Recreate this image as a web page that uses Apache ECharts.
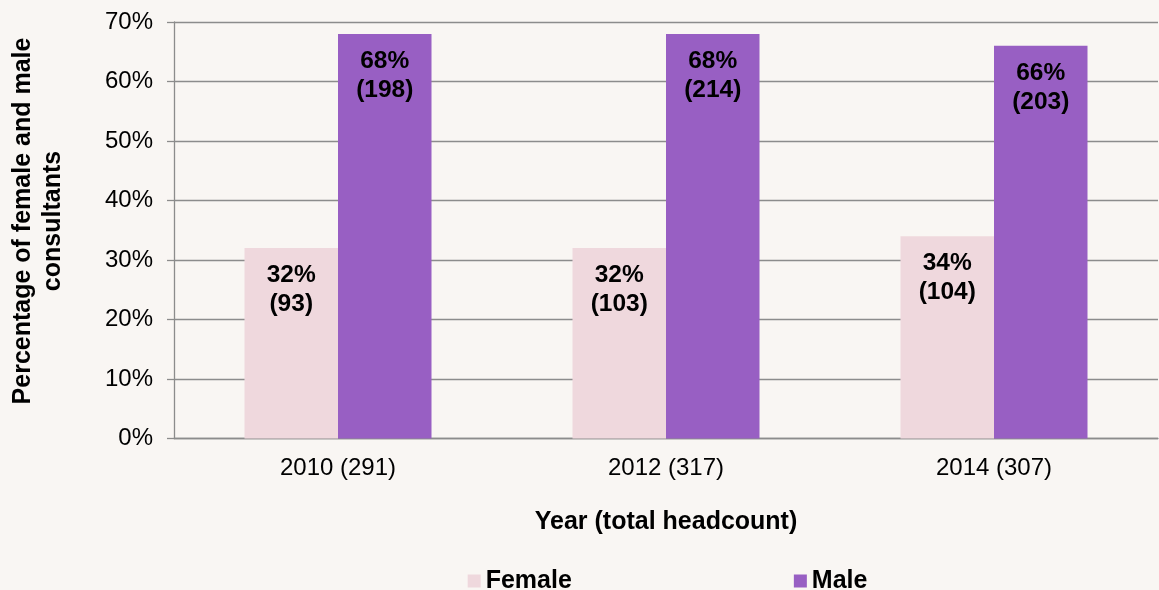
<!DOCTYPE html>
<html>
<head>
<meta charset="utf-8">
<script src="https://cdn.jsdelivr.net/npm/echarts@6/dist/echarts.min.js"></script>
<style>
html,body{margin:0;padding:0;background:#f9f6f3;}
#chart{width:1159px;height:590px;}
</style>
</head>
<body>
<div id="chart"></div>
<script>
var categories = ['2010 (291)', '2012 (317)', '2014 (307)'];
var femalePct = [32, 32, 34];
var malePct = [68, 68, 66];
var femaleCount = [93, 103, 104];
var maleCount = [198, 214, 203];
var yTicks = [0, 10, 20, 30, 40, 50, 60, 70];

var chart = echarts.init(document.getElementById('chart'));
var FONT = 'Liberation Sans, Arial, sans-serif';

function labelFor(counts) {
  return function (p) { return p.value + '%\n(' + counts[p.dataIndex] + ')'; };
}

chart.setOption({
  backgroundColor: '#f9f6f3',
  animation: false,
  grid: { left: 174, right: 1, top: 22, bottom: 151.5, containLabel: false },
  legend: {
    data: ['Female', 'Male'],
    left: 462.7,
    top: 563.5,
    itemWidth: 13,
    itemHeight: 13,
    itemGap: 222,
    icon: 'rect',
    textStyle: { fontFamily: FONT, fontSize: 25, fontWeight: 'bold', color: '#000', lineHeight: 25 }
  },
  graphic: [{
    type: 'text',
    x: 38, y: 221,
    rotation: Math.PI / 2,
    style: {
      text: 'Percentage of female and male\nconsultants',
      font: 'bold 25px ' + FONT,
      fill: '#000',
      align: 'center',
      verticalAlign: 'middle',
      lineHeight: 30
    }
  }],
  xAxis: {
    type: 'category',
    data: categories,
    name: 'Year (total headcount)',
    nameLocation: 'middle',
    nameGap: 71,
    nameTextStyle: { fontFamily: FONT, fontSize: 25, fontWeight: 'bold', color: '#000' },
    axisLine: { show: true, lineStyle: { color: '#8c8c8c', width: 1.3 } },
    axisTick: { show: false },
    axisLabel: { fontFamily: FONT, fontSize: 24, color: '#000', margin: 18 }
  },
  yAxis: {
    type: 'value',
    min: yTicks[0],
    max: yTicks[yTicks.length - 1],
    interval: 10,
    axisLine: { show: true, lineStyle: { color: '#8c8c8c', width: 1.3 } },
    axisTick: { show: true, length: 7, lineStyle: { color: '#8c8c8c', width: 1.3 } },
    splitLine: { show: true, lineStyle: { color: '#8c8c8c', width: 1.3 } },
    axisLabel: { fontFamily: FONT, fontSize: 24, color: '#000', margin: 21, formatter: '{value}%' }
  },
  series: [{
    name: 'Female',
    type: 'bar',
    data: femalePct,
    barWidth: 93.5,
    barGap: '0%',
    itemStyle: { color: '#efd8dd' },
    label: {
      show: true, position: 'insideTop', distance: 13,
      formatter: labelFor(femaleCount),
      fontFamily: FONT, fontSize: 24.5, fontWeight: 'bold', color: '#000', lineHeight: 29
    }
  }, {
    name: 'Male',
    type: 'bar',
    data: malePct,
    barWidth: 93.5,
    barGap: '0%',
    itemStyle: { color: '#985fc3' },
    label: {
      show: true, position: 'insideTop', distance: 13,
      formatter: labelFor(maleCount),
      fontFamily: FONT, fontSize: 24.5, fontWeight: 'bold', color: '#000', lineHeight: 29
    }
  }]
});
</script>
</body>
</html>
